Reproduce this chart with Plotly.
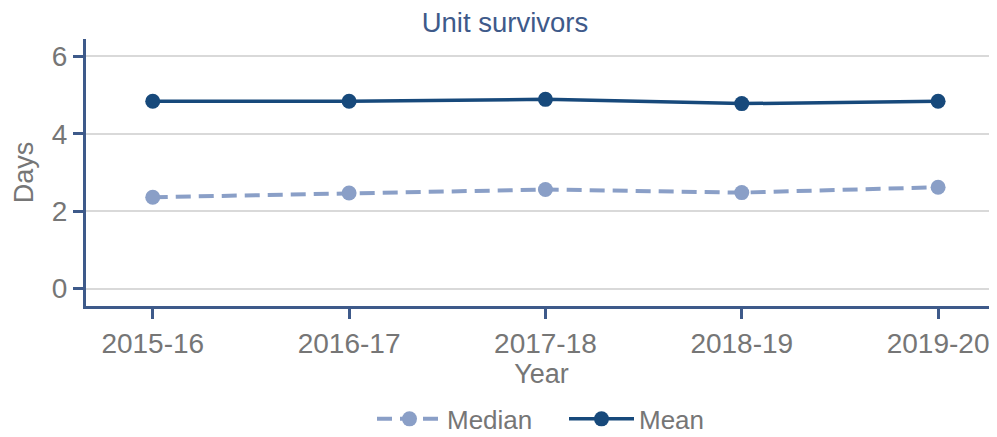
import plotly.graph_objects as go

years = ["2015-16", "2016-17", "2017-18", "2018-19", "2019-20"]
median_days = [2.36, 2.47, 2.56, 2.48, 2.62]
mean_days = [4.84, 4.84, 4.89, 4.78, 4.84]

AXIS = "#3e5a8a"
GRID = "#d9d9d9"
TEXT = "#767676"
MEAN_C = "#17497b"
MEDIAN_C = "#8a9fc7"
FONT = "Liberation Sans, Arial, sans-serif"

# the page body has an 8px margin, so the figure is sized to fit inside it
W, H = 989, 429

fig = go.Figure()
fig.add_trace(go.Scatter(
    x=years, y=median_days, name="Median", mode="lines+markers",
    line=dict(color=MEDIAN_C, width=4, dash="15px,8px"),
    marker=dict(color=MEDIAN_C, size=15),
))
fig.add_trace(go.Scatter(
    x=years, y=mean_days, name="Mean", mode="lines+markers",
    line=dict(color=MEAN_C, width=3.5),
    marker=dict(color=MEAN_C, size=15),
))

fig.update_layout(
    width=W, height=H,
    margin=dict(l=78, r=0, t=31, b=131, autoexpand=False),
    plot_bgcolor="white", paper_bgcolor="white",
    font=dict(family=FONT, size=27, color=TEXT),
    title=dict(text="Unit survivors", x=497 / W, xref="container", xanchor="center",
               y=1 - 14 / H, yref="container", yanchor="middle",
               font=dict(family=FONT, size=27.5, color=AXIS)),
    showlegend=True,
    legend=dict(orientation="h", x=(372 - 86) / 911, xanchor="left", xref="paper",
                y=-0.423, yanchor="middle", font=dict(size=26, color=TEXT),
                itemwidth=65, entrywidth=112, traceorder="normal"),
)
fig.update_xaxes(
    type="category", range=[-0.34, 4.30], automargin=False,
    showline=True, linecolor=AXIS, linewidth=3,
    ticks="outside", ticklen=10, tickwidth=3, tickcolor=AXIS,
    showgrid=False, zeroline=False,
    tickfont=dict(size=28, color=TEXT),
    title=dict(text="Year", font=dict(size=27, color=TEXT), standoff=1),
)
fig.update_yaxes(
    range=[-0.45, 6.45], tickvals=[0, 2, 4, 6], automargin=False,
    showline=True, linecolor=AXIS, linewidth=3,
    ticks="outside", ticklen=10, tickwidth=3, tickcolor=AXIS,
    showgrid=True, gridcolor=GRID, gridwidth=2, zeroline=False,
    tickfont=dict(size=28, color=TEXT),
    title=dict(text="Days", font=dict(size=27, color=TEXT), standoff=11),
)

fig.write_html("out.html")
